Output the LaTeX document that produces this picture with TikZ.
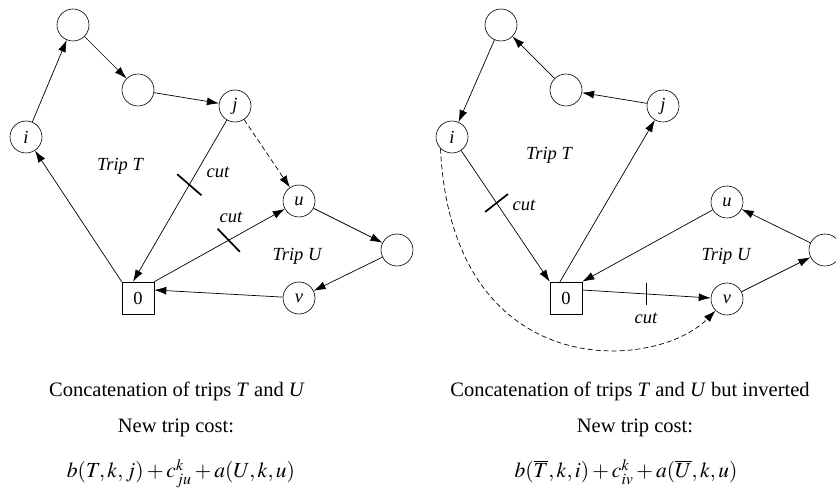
\documentclass[tikz,border=0pt]{standalone}
\usepackage{mathptmx}
\usepackage{fontspec}
\setmainfont{Liberation Serif}
\usetikzlibrary{arrows.meta}

\begin{document}
\begin{tikzpicture}[x=1pt,y=-1pt,font=\fontsize{18.5}{22}\selectfont,
  stop/.style={circle,draw,line width=0.6pt,minimum size=32pt,inner sep=0pt,font=\fontsize{18.5}{22}\selectfont\itshape},
  depot/.style={rectangle,draw,line width=0.6pt,minimum size=32pt,inner sep=0pt},
  leg/.style={-{Latex[length=12pt,width=8pt]},line width=0.7pt},
  dleg/.style={leg,dash pattern=on 5pt off 3pt},
  cutmark/.style={draw,line width=1.7pt,minimum height=32pt,minimum width=0pt,inner sep=0pt},
  note/.style={font=\fontsize{18.5}{22}\selectfont\itshape},
  caption/.style={anchor=base,font=\fontsize{20.5}{24}\selectfont},
  cost/.style={anchor=base,font=\fontsize{21.5}{26}\selectfont}]
  \useasboundingbox (0,0) rectangle (836,494);
  % left: concatenation of T and U
  \node[stop] (la) at (73,25) {};
  \node[stop] (lb) at (138,90) {};
  \node[stop] (lj) at (235,106) {j};
  \node[stop] (li) at (26,137) {i};
  \node[stop] (lu) at (299,201) {u};
  \node[stop] (lr) at (397,250) {};
  \node[stop] (lv) at (299,298) {v};
  \node[depot] (lo) at (138,298) {0};
  \draw[leg] (lo.north west) -- (li);
  \draw[leg] (li) -- (la);
  \draw[leg] (la) -- (lb);
  \draw[leg] (lb) -- (lj);
  \draw[leg] (lj) -- ([xshift=-5pt]lo.north) node[cutmark,rotate=49,pos=0.4] {};
  \draw[dleg] (lj) -- (lu);
  \draw[leg] (lo.north east) -- (lu) node[cutmark,rotate=44,pos=0.57] {};
  \draw[leg] (lu) -- (lr);
  \draw[leg] (lr) -- (lv);
  \draw[leg] (lv) -- ([yshift=8pt]lo.east);
  \node[note] (ltt) at (120,166) {Trip T};
  \node[note] (lc1) at (218,172) {cut};
  \node[note] (lc2) at (231,217) {cut};
  \node[note] (ltu) at (297,256) {Trip U};
  % right: T and U inverted
  \node[stop] (ra) at (501,25) {};
  \node[stop] (rb) at (566,90) {};
  \node[stop] (rj) at (663,106) {j};
  \node[stop] (ri) at (452,137) {i};
  \node[stop] (ru) at (727,202) {u};
  \node[stop] (rr) at (825,250) {};
  \node[stop] (rv) at (727,299) {v};
  \node[depot] (ro) at (566,298) {0};
  \draw[leg] (rj) -- (rb);
  \draw[leg] (rb) -- (ra);
  \draw[leg] (ra) -- (ri);
  \draw[leg] (ri) -- (ro.north west) node[cutmark,rotate=-52,minimum height=29pt,pos=0.4] {};
  \draw[leg] ([xshift=-6pt]ro.north) -- (rj);
  \draw[leg] (ru) -- (ro.north east);
  \draw[leg] (rr) -- (ru);
  \draw[leg] (rv) -- (rr);
  \draw[leg] ([yshift=8pt]ro.east) -- (rv) node[cutmark,minimum height=22pt,pos=0.5] {};
  \draw[dleg] (ri.south west) .. controls (452,385) and (655,372) .. (rv);
  \node[note] (rtt) at (549,155) {Trip T};
  \node[note] (rc1) at (524,205) {cut};
  \node[note] (rtu) at (726,256) {Trip U};
  \node[note] (rc2) at (646,318) {cut};
  % captions
  \node[caption] (lcap) at (177,397) {Concatenation of trips \textit{T} and \textit{U}};
  \node[caption] (lnew) at (176,433) {New trip cost:};
  \node[cost] (lcost) at (181,478) {$b(T,k,j)+c^k_{ju}+a(U,k,u)$};
  \node[caption] (rcap) at (630,397) {Concatenation of trips \textit{T} and \textit{U} but inverted};
  \node[caption] (rnew) at (635,433) {New trip cost:};
  \node[cost] (rcost) at (626,478) {$b(\overline{T},k,i)+c^k_{iv}+a(\overline{U},k,u)$};
\end{tikzpicture}
\end{document}
